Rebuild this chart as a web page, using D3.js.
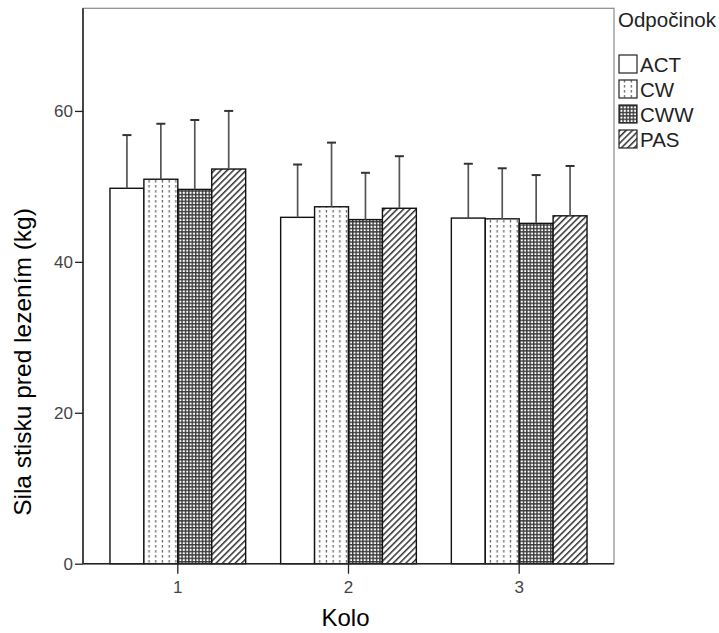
<!DOCTYPE html>
<html>
<head>
<meta charset="utf-8">
<script src="https://cdn.jsdelivr.net/npm/d3@7"></script>
<style>
  html, body { margin: 0; padding: 0; background: #fff; }
  svg { display: block; font-family: "Liberation Sans", Arial, sans-serif; }
</style>
</head>
<body>
<svg id="chart" width="719" height="633"></svg>
<script>
// ---- data ----
const categories = ["1", "2", "3"];
const series = ["ACT", "CW", "CWW", "PAS"];
const meanACT = [49.75, 45.9, 45.8];
const meanCW  = [50.95, 47.3, 45.7];
const meanCWW = [49.6, 45.6, 45.1];
const meanPAS = [52.3, 47.1, 46.1];
const upperACT = [56.8, 52.9, 53.0];
const upperCW  = [58.3, 55.8, 52.4];
const upperCWW = [58.8, 51.8, 51.5];
const upperPAS = [60.0, 54.0, 52.7];
const yTicks = [0, 20, 40, 60];
const yMax = 73.6;

const means = [meanACT, meanCW, meanCWW, meanPAS];
const uppers = [upperACT, upperCW, upperCWW, upperPAS];

const svg = d3.select("#chart");
const L = 83, R = 614, T = 8.3, B = 563.7;

// ---- patterns ----
const defs = svg.append("defs");
// CW: dotted vertical lines
const pCW = defs.append("pattern").attr("id", "pCW").attr("patternUnits", "userSpaceOnUse")
  .attr("width", 6.7).attr("height", 5).attr("x", 2.3);
pCW.append("rect").attr("width", 6.7).attr("height", 5).attr("fill", "#fff");
pCW.append("line").attr("x1", 3.3).attr("x2", 3.3).attr("y1", 0).attr("y2", 2.6)
  .attr("stroke", "#6a6a6a").attr("stroke-width", 1.3);
// CWW: checkered grid
const pCWW = defs.append("pattern").attr("id", "pCWW").attr("patternUnits", "userSpaceOnUse")
  .attr("width", 3.4).attr("height", 3.4);
pCWW.append("rect").attr("width", 3.4).attr("height", 3.4).attr("fill", "#fff");
pCWW.append("rect").attr("x", 0).attr("y", 0).attr("width", 1.4).attr("height", 3.4).attr("fill", "#3a3a3a");
pCWW.append("rect").attr("x", 0).attr("y", 0).attr("width", 3.4).attr("height", 1.4).attr("fill", "#3a3a3a");
// PAS: diagonal hatch
const pPAS = defs.append("pattern").attr("id", "pPAS").attr("patternUnits", "userSpaceOnUse")
  .attr("width", 4.5).attr("height", 4.5).attr("patternTransform", "rotate(45)");
pPAS.append("rect").attr("width", 4.5).attr("height", 4.5).attr("fill", "#fff");
pPAS.append("rect").attr("x", 0).attr("y", 0).attr("width", 1.5).attr("height", 4.5).attr("fill", "#333");

const fills = {ACT: "#fff", CW: "url(#pCW)", CWW: "url(#pCWW)", PAS: "url(#pPAS)"};

// ---- scales ----
const x0 = d3.scaleBand().domain(categories).range([L, R]).paddingInner(0.205).paddingOuter(0.158);
const x1 = d3.scaleBand().domain(series).range([0, x0.bandwidth()]);
const y = d3.scaleLinear().domain([0, yMax]).range([B, T]);

// frame
svg.append("rect").attr("x", L).attr("y", T).attr("width", R - L).attr("height", B - T)
  .attr("fill", "none").attr("stroke", "#8a8a8a").attr("stroke-width", 1.2);

// bars
const groups = svg.append("g").selectAll("g").data(categories).join("g")
  .attr("transform", d => `translate(${x0(d)},0)`);

series.forEach((s, si) => {
  groups.append("rect")
    .attr("x", x1(s))
    .attr("y", (d, ci) => y(means[si][ci]))
    .attr("width", x1.bandwidth())
    .attr("height", (d, ci) => y(0) - y(means[si][ci]))
    .attr("fill", fills[s])
    .attr("stroke", "#111").attr("stroke-width", 1.4);
  // error bars
  groups.append("line")
    .attr("x1", x1(s) + x1.bandwidth() / 2).attr("x2", x1(s) + x1.bandwidth() / 2)
    .attr("y1", (d, ci) => y(means[si][ci])).attr("y2", (d, ci) => y(uppers[si][ci]))
    .attr("stroke", "#555").attr("stroke-width", 1.7);
  groups.append("line")
    .attr("x1", x1(s) + x1.bandwidth() / 2 - 4.5).attr("x2", x1(s) + x1.bandwidth() / 2 + 4.5)
    .attr("y1", (d, ci) => y(uppers[si][ci])).attr("y2", (d, ci) => y(uppers[si][ci]))
    .attr("stroke", "#333").attr("stroke-width", 2);
});

// axes
const yAxis = svg.append("g").attr("transform", `translate(${L},0)`)
  .call(d3.axisLeft(y).tickValues(yTicks).tickSize(8).tickPadding(2).tickFormat(d3.format("d")));
yAxis.attr("font-size", null).attr("font-family", null);
yAxis.select(".domain").attr("stroke", "#222").attr("stroke-width", 1.5).attr("d", `M0,${T}V${B}`);
yAxis.selectAll(".tick line").attr("stroke", "#222").attr("stroke-width", 1.3);
yAxis.selectAll(".tick text").style("font-size", "17px").attr("fill", "#444");

const xAxis = svg.append("g").attr("transform", `translate(0,${B})`)
  .call(d3.axisBottom(x0).tickSize(10).tickPadding(7));
xAxis.attr("font-size", null).attr("font-family", null);
xAxis.select(".domain").attr("stroke", "#222").attr("stroke-width", 1.5).attr("d", `M${L},0H${R}`);
xAxis.selectAll(".tick line").attr("stroke", "#222").attr("stroke-width", 1.3);
xAxis.selectAll(".tick text").style("font-size", "17px").attr("fill", "#444");

// axis titles
svg.append("text").attr("x", (L + R) / 2 - 3).attr("y", 626).attr("text-anchor", "middle")
  .style("font-size", "24px").attr("fill", "#000").text("Kolo");
svg.append("text").attr("transform", "translate(31,362) rotate(-90)").attr("text-anchor", "middle")
  .style("font-size", "24.5px").attr("fill", "#000").text("Sila stisku pred lezením (kg)");

// legend
svg.append("text").attr("x", 618).attr("y", 27).style("font-size", "20.5px").attr("fill", "#222").text("Odpočinok");
const leg = svg.append("g").selectAll("g").data(series).join("g")
  .attr("transform", (d, i) => `translate(619,${55 + i * 25})`);
leg.append("rect").attr("width", 18).attr("height", 18).attr("fill", d => fills[d])
  .attr("stroke", "#222").attr("stroke-width", 1.2);
leg.append("text").attr("x", 21).attr("y", 17).style("font-size", "20.5px").attr("fill", "#222").text(d => d);
</script>
</body>
</html>
